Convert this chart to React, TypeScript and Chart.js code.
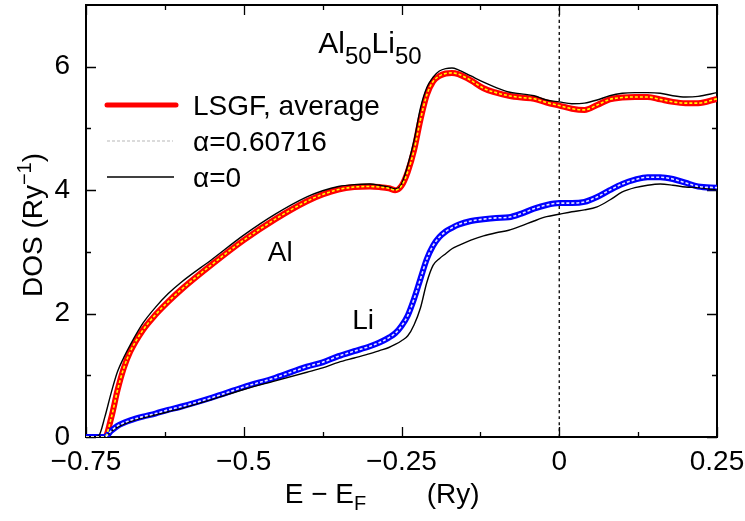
import React, { useEffect, useRef } from "react";
import { Chart, registerables } from "chart.js";

Chart.register(...registerables);

// ---------------- data ----------------
const energy = [
  -0.75, -0.74, -0.73, -0.72, -0.71, -0.7, -0.69, -0.68,
  -0.66, -0.64, -0.62, -0.6,
  -0.55, -0.5, -0.45, -0.4, -0.375, -0.35, -0.325, -0.3, -0.285,
  -0.27, -0.26, -0.25, -0.24, -0.23, -0.22, -0.21, -0.2, -0.19, -0.18, -0.17, -0.16,
  -0.14, -0.12, -0.1, -0.08, -0.06, -0.04, -0.02, 0, 0.02, 0.04, 0.06, 0.08, 0.1, 0.12, 0.14, 0.16, 0.18, 0.2, 0.22,
  0.25,
];

const alAverage = [
  0, 0, 0, 0, 0.31, 0.76, 1.12, 1.38,
  1.73, 1.98, 2.19, 2.38,
  2.8, 3.19, 3.53, 3.82, 3.93, 4.01, 4.05, 4.06, 4.05,
  4.03, 4.0, 4.07, 4.3, 4.65, 5.14, 5.54, 5.76, 5.85, 5.89, 5.9, 5.88,
  5.78, 5.65, 5.58, 5.53, 5.5, 5.48, 5.42, 5.37, 5.32, 5.3, 5.38, 5.47, 5.5, 5.51, 5.51, 5.47, 5.43, 5.41, 5.41,
  5.48,
];

const alAlphaOpt = [
  0, 0, 0, 0, 0.31, 0.76, 1.12, 1.38,
  1.73, 1.98, 2.19, 2.38,
  2.8, 3.19, 3.53, 3.82, 3.93, 4.01, 4.05, 4.06, 4.05,
  4.03, 4.0, 4.07, 4.3, 4.65, 5.14, 5.54, 5.76, 5.85, 5.89, 5.9, 5.88,
  5.78, 5.65, 5.58, 5.53, 5.5, 5.48, 5.42, 5.37, 5.32, 5.3, 5.38, 5.47, 5.5, 5.51, 5.51, 5.47, 5.43, 5.41, 5.41,
  5.48,
];

const alAlpha0 = [
  0, 0, 0.02, 0.33, 0.72, 1.06, 1.29, 1.49,
  1.84, 2.1, 2.32, 2.5,
  2.88, 3.27, 3.61, 3.89, 3.99, 4.06, 4.09, 4.1, 4.08,
  4.05, 4.02, 4.1, 4.41, 4.81, 5.33, 5.66, 5.83, 5.93, 5.97, 5.98, 5.95,
  5.85, 5.75, 5.66, 5.59, 5.56, 5.53, 5.46, 5.43, 5.4, 5.41, 5.46, 5.53, 5.57, 5.58, 5.58, 5.57, 5.53, 5.51, 5.52,
  5.58,
];

const liAverage = [
  0, 0, 0, 0, 0.1, 0.18, 0.23, 0.27,
  0.33, 0.38, 0.44, 0.49,
  0.64, 0.81, 0.96, 1.14, 1.21, 1.31, 1.39, 1.47, 1.53,
  1.61, 1.68, 1.8, 1.97, 2.24, 2.56, 2.88, 3.1, 3.24, 3.33, 3.39, 3.44,
  3.5, 3.53, 3.55, 3.56, 3.62, 3.7, 3.76, 3.79, 3.79, 3.81, 3.89, 4.0, 4.1, 4.17, 4.21, 4.21, 4.18, 4.12, 4.06,
  4.04,
];

const liAlphaOpt = [
  0, 0, 0, 0, 0.1, 0.18, 0.23, 0.27,
  0.33, 0.38, 0.44, 0.49,
  0.64, 0.81, 0.96, 1.14, 1.21, 1.31, 1.39, 1.47, 1.53,
  1.61, 1.68, 1.8, 1.97, 2.24, 2.56, 2.88, 3.1, 3.24, 3.33, 3.39, 3.44,
  3.5, 3.53, 3.55, 3.56, 3.62, 3.7, 3.76, 3.79, 3.79, 3.81, 3.89, 4.0, 4.1, 4.17, 4.21, 4.21, 4.18, 4.12, 4.06,
  4.04,
];

const liAlpha0 = [
  0, 0, 0, 0, 0.09, 0.16, 0.21, 0.25,
  0.31, 0.36, 0.41, 0.46,
  0.61, 0.77, 0.91, 1.05, 1.12, 1.21, 1.28, 1.35, 1.4,
  1.45, 1.5, 1.56, 1.64, 1.82, 2.09, 2.5, 2.78, 2.89, 2.97, 3.05, 3.1,
  3.19, 3.26, 3.31, 3.35, 3.42, 3.5, 3.57, 3.61, 3.65, 3.68, 3.73, 3.84, 3.97, 4.04, 4.08, 4.1, 4.08, 4.05, 4.04,
  4.0,
];

const fermiX = [0, 0];
const fermiY = [0, 7];

const xTickValues = [-0.75, -0.5, -0.25, 0, 0.25];
const xTickLabels = ["\u22120.75", "\u22120.5", "\u22120.25", "0", "0.25"];
const xMinorTicks = [-0.625, -0.375, -0.125, 0.125];
const yTickValues = [0, 2, 4, 6];
const yTickLabels = ["0", "2", "4", "6"];
const yMinorTicks = [1, 3, 5];

const legendLabels = ["LSGF, average", "\u03b1=0.60716", "\u03b1=0"];

// ---------------- helpers ----------------
const FONT = "'Liberation Sans', Arial, Helvetica, sans-serif";

type Part = { t: string; size: number; dy: number };

function partsWidth(ctx: CanvasRenderingContext2D, parts: Part[]) {
  let w = 0;
  for (const p of parts) {
    ctx.font = `${p.size}px ${FONT}`;
    w += ctx.measureText(p.t).width;
  }
  return w;
}

function drawParts(ctx: CanvasRenderingContext2D, parts: Part[], x: number, y: number) {
  let cx = x;
  for (const p of parts) {
    ctx.font = `${p.size}px ${FONT}`;
    ctx.fillText(p.t, cx, y + p.dy);
    cx += ctx.measureText(p.t).width;
  }
  return cx;
}

const toPts = (xs: number[], ys: number[]) => xs.map((x, i) => ({ x, y: ys[i] }));

const decorPlugin = {
  id: "decor",
  beforeDatasetsDraw(chart: any) {
    const { ctx, chartArea: a, scales } = chart;
    const xs = scales.x;
    const ys = scales.y;
    ctx.save();
    ctx.strokeStyle = "#000";
    ctx.lineWidth = 1.3;
    ctx.beginPath();
    const tickX = (v: number, len: number) => {
      const px = Math.round(xs.getPixelForValue(v)) + 0.5;
      ctx.moveTo(px, a.bottom);
      ctx.lineTo(px, a.bottom - len);
      ctx.moveTo(px, a.top);
      ctx.lineTo(px, a.top + len);
    };
    const tickY = (v: number, len: number) => {
      const py = Math.round(ys.getPixelForValue(v)) + 0.5;
      ctx.moveTo(a.left, py);
      ctx.lineTo(a.left + len, py);
      ctx.moveTo(a.right, py);
      ctx.lineTo(a.right - len, py);
    };
    xTickValues.forEach((v) => tickX(v, 10));
    xMinorTicks.forEach((v) => tickX(v, 5));
    yTickValues.forEach((v) => tickY(v, 10));
    yMinorTicks.forEach((v) => tickY(v, 5));
    ctx.stroke();
    ctx.lineWidth = 2;
    ctx.strokeRect(a.left, a.top, a.right - a.left, a.bottom - a.top);
    ctx.restore();
  },
  afterDraw(chart: any) {
    const { ctx, chartArea: a, scales } = chart;
    const xs = scales.x;
    const ys = scales.y;
    ctx.save();
    ctx.fillStyle = "#000";
    ctx.textBaseline = "alphabetic";
    ctx.textAlign = "left";

    // legend
    const rows = [a.top + 100, a.top + 136, a.top + 172];
    const sx0 = a.left + 21;
    const sx1 = a.left + 90;
    const tx = a.left + 107;
    ctx.lineCap = "round";
    ctx.strokeStyle = "#ff0000";
    ctx.lineWidth = 5;
    ctx.beginPath();
    ctx.moveTo(sx0, rows[0]);
    ctx.lineTo(sx1, rows[0]);
    ctx.stroke();
    ctx.lineCap = "butt";
    ctx.strokeStyle = "#cfcfcf";
    ctx.lineWidth = 1.5;
    ctx.setLineDash([3, 2]);
    ctx.beginPath();
    ctx.moveTo(sx0, rows[1]);
    ctx.lineTo(sx1 - 3, rows[1]);
    ctx.stroke();
    ctx.setLineDash([]);
    ctx.strokeStyle = "#000";
    ctx.lineWidth = 1.3;
    ctx.beginPath();
    ctx.moveTo(sx0, rows[2]);
    ctx.lineTo(sx1 - 2, rows[2]);
    ctx.stroke();
    ctx.font = `28px ${FONT}`;
    legendLabels.forEach((t, i) => ctx.fillText(t, tx, rows[i] + 10));

    // annotations
    drawParts(
      ctx,
      [
        { t: "Al", size: 30, dy: 0 },
        { t: "50", size: 24, dy: 11 },
        { t: "Li", size: 30, dy: 0 },
        { t: "50", size: 24, dy: 11 },
      ],
      xs.getPixelForValue(-0.382),
      ys.getPixelForValue(6.22)
    );
    ctx.font = `28px ${FONT}`;
    ctx.fillText("Al", xs.getPixelForValue(-0.462), ys.getPixelForValue(2.85));
    ctx.fillText("Li", xs.getPixelForValue(-0.328), ys.getPixelForValue(1.75));

    // x title
    drawParts(
      ctx,
      [
        { t: "E \u2212 E", size: 28, dy: 0 },
        { t: "F", size: 20, dy: 7 },
      ],
      xs.getPixelForValue(-0.435),
      503
    );
    ctx.font = `28px ${FONT}`;
    ctx.fillText("(Ry)", xs.getPixelForValue(-0.21), 503);

    // y title
    const yParts: Part[] = [
      { t: "DOS (Ry", size: 28, dy: 0 },
      { t: "\u22121", size: 20, dy: -11 },
      { t: ")", size: 28, dy: 0 },
    ];
    const yw = partsWidth(ctx, yParts);
    ctx.translate(42, (a.top + a.bottom) / 2 + 4);
    ctx.rotate(-Math.PI / 2);
    drawParts(ctx, yParts, -yw / 2, 0);
    ctx.restore();
  },
};

export default function App() {
  const ref = useRef<HTMLCanvasElement | null>(null);

  useEffect(() => {
    if (!ref.current) return;
    const line = (label: string, xs: number[], ys: number[], extra: any) => ({
      label,
      data: toPts(xs, ys),
      pointRadius: 0,
      cubicInterpolationMode: "monotone",
      ...extra,
    });
    const chart = new Chart(ref.current, {
      type: "line",
      data: {
        datasets: [
          line("E_F", fermiX, fermiY, { borderColor: "#000", borderWidth: 1.3, borderDash: [3, 3], order: 10 }),
          line("Al LSGF, average", energy, alAverage, { borderColor: "#ff0000", borderWidth: 6, order: 8 }),
          line("Li LSGF, average", energy, liAverage, { borderColor: "#0000ff", borderWidth: 6, order: 7 }),
          line("Al α=0", energy, alAlpha0, { borderColor: "#000", borderWidth: 1.4, order: 6 }),
          line("Li α=0", energy, liAlpha0, { borderColor: "#000", borderWidth: 1.4, order: 5 }),
          line("Al α=0.60716", energy, alAlphaOpt, {
            borderColor: "#ffff00",
            borderWidth: 1.6,
            borderDash: [3, 2],
            order: 2,
          }),
          line("Li α=0.60716", energy, liAlphaOpt, {
            borderColor: "#e6e6ff",
            borderWidth: 1.6,
            borderDash: [3, 2],
            order: 1,
          }),
        ],
      },
      options: {
        animation: false,
        responsive: true,
        maintainAspectRatio: false,
        layout: { padding: { top: 5, right: 28, left: 0, bottom: 0 } },
        plugins: { legend: { display: false }, tooltip: { enabled: false } },
        scales: {
          x: {
            type: "linear",
            min: -0.75,
            max: 0.25,
            grid: { display: false, drawTicks: false },
            border: { display: false },
            afterBuildTicks: (s: any) => {
              s.ticks = xTickValues.map((v) => ({ value: v }));
            },
            afterFit: (s: any) => {
              s.height = 84;
              s.paddingLeft = 0;
              s.paddingRight = 0;
            },
            ticks: {
              autoSkip: false,
              maxRotation: 0,
              padding: 8,
              color: "#000",
              font: { family: FONT, size: 28 },
              callback: (v: any) => {
                const i = xTickValues.findIndex((t) => Math.abs(t - Number(v)) < 1e-9);
                return i >= 0 ? xTickLabels[i] : "";
              },
            },
          },
          y: {
            type: "linear",
            min: 0,
            max: 7,
            grid: { display: false, drawTicks: false },
            border: { display: false },
            afterBuildTicks: (s: any) => {
              s.ticks = yTickValues.map((v) => ({ value: v }));
            },
            afterFit: (s: any) => {
              s.width = 86;
              s.paddingTop = 0;
              s.paddingBottom = 0;
            },
            ticks: {
              autoSkip: false,
              padding: 16,
              color: "#000",
              font: { family: FONT, size: 28 },
              callback: (v: any) => {
                const i = yTickValues.findIndex((t) => Math.abs(t - Number(v)) < 1e-9);
                return i >= 0 ? yTickLabels[i] : "";
              },
            },
          },
        },
      },
      plugins: [decorPlugin],
    } as any);
    return () => chart.destroy();
  }, []);

  return (
    <div style={{ position: "fixed", left: 0, top: 0, width: 745, height: 521, background: "#fff" }}>
      <canvas ref={ref} />
    </div>
  );
}
